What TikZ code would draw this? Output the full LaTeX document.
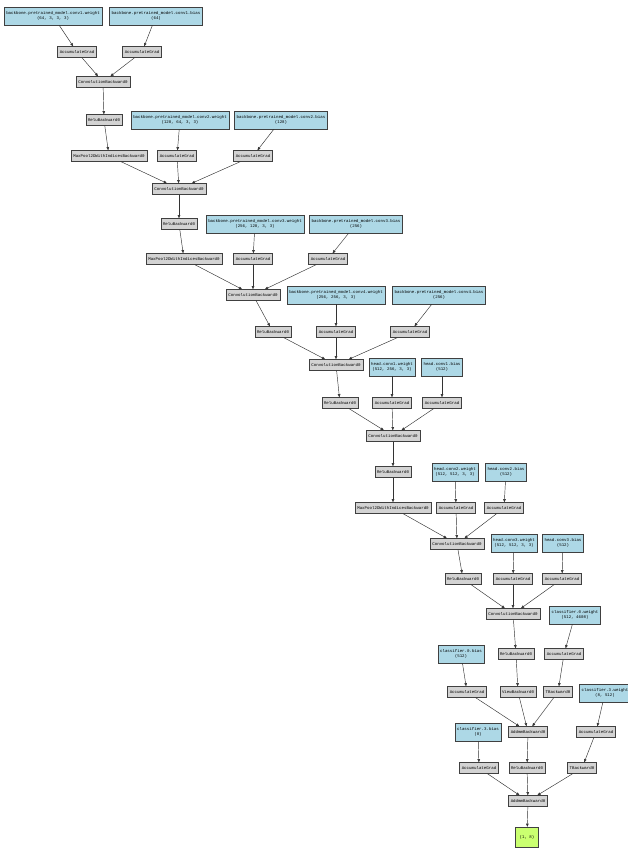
\documentclass[tikz,border=0pt]{standalone}
\usepackage{fontspec}
\setmonofont{Liberation Mono}
\usetikzlibrary{arrows.meta}
\definecolor{parblue}{RGB}{173,216,230}
\definecolor{opgray}{RGB}{211,211,211}
\definecolor{outgreen}{RGB}{202,255,112}
\begin{document}
\begin{tikzpicture}[x=1pt,y=-1pt,
  base/.style={draw=black!75, line width=0.4pt, font=\ttfamily\fontsize{4.1}{4.9}\selectfont, inner xsep=2.2pt, inner ysep=0pt, align=center},
  op/.style={base, fill=opgray, minimum height=11pt},
  param/.style={base, fill=parblue, minimum height=18pt},
  outnode/.style={base, fill=outgreen, minimum height=20pt, minimum width=23pt},
  edge/.style={draw=black!80, line width=0.45pt, -{Triangle[length=3.2pt,width=2.6pt]}}]
\fill[white] (0,0) rectangle (628,848);
\useasboundingbox (0,0) rectangle (628,848);
% block 1
\node[param] (p1) at (53,16) {backbone.pretrained\_model.conv1.weight\\ (64, 3, 3, 3)};
\node[param] (p2) at (156,16) {backbone.pretrained\_model.conv1.bias\\ (64)};
\node[op] (ag1) at (77,52) {AccumulateGrad};
\node[op] (ag2) at (142,52) {AccumulateGrad};
\node[op] (c1) at (103,82) {ConvolutionBackward0};
\node[op] (r1) at (104,120) {ReluBackward0};
\node[param] (p3) at (180,120) {backbone.pretrained\_model.conv2.weight\\ (128, 64, 3, 3)};
\node[param] (p4) at (281,120) {backbone.pretrained\_model.conv2.bias\\ (128)};
\node[op] (m1) at (109,156) {MaxPool2DWithIndicesBackward0};
\node[op] (ag3) at (177,156) {AccumulateGrad};
\node[op] (ag4) at (253,156) {AccumulateGrad};
\node[op] (c2) at (179,189) {ConvolutionBackward0};
\node[op] (r2) at (179,224) {ReluBackward0};
\node[param] (p5) at (255,224) {backbone.pretrained\_model.conv3.weight\\ (256, 128, 3, 3)};
\node[param] (p6) at (356,224) {backbone.pretrained\_model.conv3.bias\\ (256)};
\node[op] (m2) at (184,259) {MaxPool2DWithIndicesBackward0};
\node[op] (ag5) at (253,259) {AccumulateGrad};
\node[op] (ag6) at (328,259) {AccumulateGrad};
\node[op] (c3) at (253,295) {ConvolutionBackward0};
\node[param] (p7) at (336,295) {backbone.pretrained\_model.conv4.weight\\ (256, 256, 3, 3)};
\node[param] (p8) at (439,295) {backbone.pretrained\_model.conv4.bias\\ (256)};
\node[op] (r3) at (273,332) {ReluBackward0};
\node[op] (ag7) at (336,332) {AccumulateGrad};
\node[op] (ag8) at (410,332) {AccumulateGrad};
\node[op] (c4) at (336,365) {ConvolutionBackward0};
\node[param] (p9) at (392,367) {head.conv1.weight\\ (512, 256, 3, 3)};
\node[param] (p10) at (442,367) {head.conv1.bias\\ (512)};
\node[op] (r4) at (340,403) {ReluBackward0};
\node[op] (ag9) at (392,403) {AccumulateGrad};
\node[op] (ag10) at (442,403) {AccumulateGrad};
\node[op] (c5) at (393,436) {ConvolutionBackward0};
\node[op] (r5) at (393,472) {ReluBackward0};
\node[param] (p11) at (455,472) {head.conv2.weight\\ (512, 512, 3, 3)};
\node[param] (p12) at (506,472) {head.conv2.bias\\ (512)};
\node[op] (m3) at (393,508) {MaxPool2DWithIndicesBackward0};
\node[op] (ag11) at (456,508) {AccumulateGrad};
\node[op] (ag12) at (504,508) {AccumulateGrad};
\node[op] (c6) at (457,544) {ConvolutionBackward0};
\node[param] (p13) at (514,543) {head.conv3.weight\\ (512, 512, 3, 3)};
\node[param] (p14) at (563,543) {head.conv3.bias\\ (512)};
\node[op] (r6) at (463,579) {ReluBackward0};
\node[op] (ag13) at (513,579) {AccumulateGrad};
\node[op] (ag14) at (562,579) {AccumulateGrad};
\node[op] (c7) at (513,614) {ConvolutionBackward0};
\node[param] (p15) at (575,615) {classifier.0.weight\\ (512, 4608)};
\node[param] (p16) at (461,654) {classifier.0.bias\\ (512)};
\node[op] (r7) at (516,654) {ReluBackward0};
\node[op] (ag15) at (564,654) {AccumulateGrad};
\node[op] (ag16) at (467,692) {AccumulateGrad};
\node[op] (v1) at (518,692) {ViewBackward0};
\node[op] (t1) at (558,692) {TBackward0};
\node[param] (p17) at (605,693) {classifier.3.weight\\ (8, 512)};
\node[param] (p18) at (478,732) {classifier.3.bias\\ (8)};
\node[op] (a1) at (528,732) {AddmmBackward0};
\node[op] (ag17) at (596,732) {AccumulateGrad};
\node[op] (ag18) at (479,768) {AccumulateGrad};
\node[op] (r8) at (527,768) {ReluBackward0};
\node[op] (t2) at (582,768) {TBackward0};
\node[op] (a2) at (528,801) {AddmmBackward0};
\node[outnode] (out) at (527,837) {(1, 8)};
% edges
\foreach \a/\b in {p1/ag1,p2/ag2,ag1/c1,ag2/c1,c1/r1,r1/m1,p3/ag3,p4/ag4,m1/c2,ag3/c2,ag4/c2,
  c2/r2,r2/m2,p5/ag5,p6/ag6,m2/c3,ag5/c3,ag6/c3,c3/r3,p7/ag7,p8/ag8,r3/c4,ag7/c4,ag8/c4,
  c4/r4,p9/ag9,p10/ag10,r4/c5,ag9/c5,ag10/c5,c5/r5,r5/m3,p11/ag11,p12/ag12,m3/c6,ag11/c6,ag12/c6,
  c6/r6,p13/ag13,p14/ag14,r6/c7,ag13/c7,ag14/c7,c7/r7,p15/ag15,r7/v1,ag15/t1,p16/ag16,
  ag16/a1,v1/a1,t1/a1,a1/r8,p17/ag17,ag17/t2,p18/ag18,ag18/a2,r8/a2,t2/a2,a2/out}
  \draw[edge] (\a) -- (\b);
\end{tikzpicture}
\end{document}
